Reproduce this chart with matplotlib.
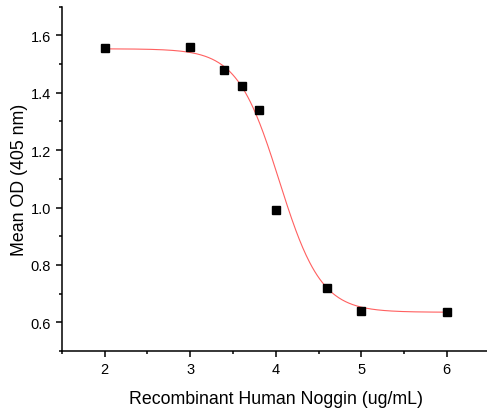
import numpy as np
import matplotlib
matplotlib.use("Agg")
import matplotlib.pyplot as plt
from matplotlib.ticker import MultipleLocator, FormatStrFormatter

plt.rcParams['font.family'] = ['Liberation Sans', 'DejaVu Sans']

# measured data
conc = [2.0, 3.0, 3.4, 3.6, 3.8, 4.0, 4.6, 5.0, 6.0]
mean_od = [1.555, 1.558, 1.478, 1.422, 1.339, 0.993, 0.718, 0.638, 0.635]

# Boltzmann fit parameters
fit_top = 1.553
fit_bottom = 0.635
fit_x0 = 4.04
fit_dx = 0.245

fig = plt.figure(figsize=(4.87, 4.10), dpi=100)
ax = fig.add_axes([62/487, 58/410, 427.5/487, 344.4/410])

xf = np.linspace(min(conc), max(conc), 400)
yf = fit_bottom + (fit_top - fit_bottom) / (1 + np.exp((xf - fit_x0) / fit_dx))
ax.plot(xf, yf, color='#ff6060', lw=0.8, zorder=2)
ax.plot(conc, mean_od, 's', color='black', markersize=6.3, zorder=3)

ax.set_xlim(1.5, 6.5)
ax.set_ylim(0.5, 1.7)
ax.xaxis.set_major_locator(MultipleLocator(1))
ax.xaxis.set_minor_locator(MultipleLocator(0.5))
ax.yaxis.set_major_locator(MultipleLocator(0.2))
ax.yaxis.set_minor_locator(MultipleLocator(0.1))
ax.yaxis.set_major_formatter(FormatStrFormatter('%.1f'))

for s in ['top', 'right']:
    ax.spines[s].set_visible(False)
for s in ['left', 'bottom']:
    ax.spines[s].set_linewidth(1.1)

ax.tick_params(which='major', direction='out', length=4.5, width=1.1, labelsize=10.5, pad=3.5)
ax.tick_params(which='minor', direction='out', length=2.5, width=1.1)

ax.set_xlabel('Recombinant Human Noggin (ug/mL)', fontsize=12.8, labelpad=10)
ax.set_ylabel('Mean OD (405 nm)', fontsize=12.8, labelpad=2)

fig.savefig('out.png', dpi=100)
